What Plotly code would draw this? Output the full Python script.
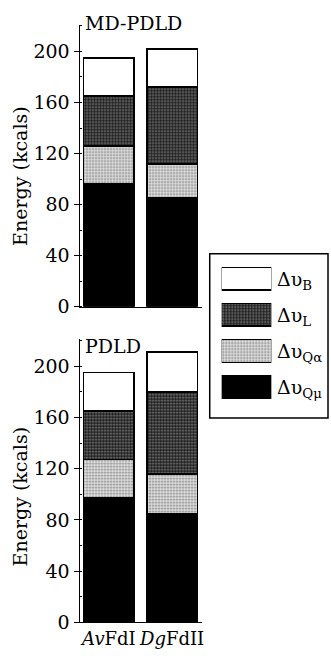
import plotly.graph_objects as go

categories = ["AvFdI", "DgFdII"]
tick_text = ["<i>Av</i>FdI", "<i>Dg</i>FdII"]
components = ["Qmu", "Qalpha", "L", "B"]
legend_subs = ["B", "L", "Qα", "Qμ"]

md_qmu = [96, 85]
md_qalpha = [30, 27]
md_l = [39, 60]
md_b = [30, 30]

pdld_qmu = [97, 85]
pdld_qalpha = [30, 31]
pdld_l = [38, 64]
pdld_b = [30, 31]

yticks = [0, 40, 80, 120, 160, 200]

FONT = "DejaVu Serif"
FS = 19

styles = {
    "Qmu": dict(color="black"),
    "Qalpha": dict(color="#d8d8d8", pattern=dict(shape=".", size=3, solidity=0.35,
                                                 fgcolor="#7a7a7a", bgcolor="#e6e6e6", fillmode="replace")),
    "L": dict(color="#333333", pattern=dict(shape=".", size=3, solidity=0.3,
                                            fgcolor="#8c8c8c", bgcolor="#1a1a1a", fillmode="replace")),
    "B": dict(color="white"),
}

fig = go.Figure()

panels = [
    ("x", "y", [md_qmu, md_qalpha, md_l, md_b]),
    ("x2", "y2", [pdld_qmu, pdld_qalpha, pdld_l, pdld_b]),
]
for xa, ya, series in panels:
    for comp, vals in zip(components, series):
        mk = dict(styles[comp])
        mk["line"] = dict(color="black", width=1.5)
        fig.add_trace(go.Bar(x=categories, y=vals, xaxis=xa, yaxis=ya, marker=mk,
                             width=0.8, showlegend=False, hoverinfo="skip"))

# legend swatches in a hidden axis
legend_comps = ["B", "L", "Qalpha", "Qmu"]
for i, comp in enumerate(legend_comps):
    mk = dict(styles[comp])
    mk["line"] = dict(color="black", width=1.5)
    fig.add_trace(go.Bar(x=[1], y=[i], orientation="h", xaxis="x3", yaxis="y3",
                         marker=mk, width=0.63, showlegend=False, hoverinfo="skip"))

yax_common = dict(
    range=[0, 221], tickvals=yticks, ticks="outside", ticklen=5, tickwidth=1,
    tickcolor="black", showline=True, linecolor="black", linewidth=1,
    showgrid=False, zeroline=False,
    tickfont=dict(family=FONT, size=FS, color="black"),
    minor=dict(dtick=20, ticks="inside", ticklen=2, tickcolor="black"),
)
xax_common = dict(
    range=[-0.465, 1.47], showline=True, linecolor="black", linewidth=1,
    showgrid=False, zeroline=False, ticks="", tickangle=0,
    tickfont=dict(family=FONT, size=18, color="black"),
)

fig.update_layout(
    width=331, height=658,
    margin=dict(l=0, r=0, t=0, b=0),
    paper_bgcolor="white", plot_bgcolor="white",
    barmode="stack",
    showlegend=False,
    xaxis=dict(domain=[80/331, 203/331], anchor="y", showticklabels=False, **xax_common),
    yaxis=dict(domain=[1-312/658, 1-25/658], anchor="x", **yax_common),
    xaxis2=dict(domain=[80/331, 203/331], anchor="y2", tickvals=categories,
                ticktext=tick_text, **xax_common),
    yaxis2=dict(domain=[1-633/658, 1-345/658], anchor="x2", **yax_common),
    xaxis3=dict(domain=[223/331, 273/331], anchor="y3", range=[0, 1], visible=False),
    yaxis3=dict(domain=[1-412/658, 1-265/658], anchor="x3", range=[3.5, -0.5], visible=False),
)

# legend box
fig.add_shape(type="rect", xref="paper", yref="paper",
              x0=211/331, x1=330/331, y0=1-425/658, y1=1-258/658,
              line=dict(color="black", width=1.5), fillcolor="rgba(0,0,0,0)")

row_y = [283.5, 320, 357, 393.5]
for sub, ry in zip(legend_subs, row_y):
    lbl = "Δυ<sub>" + sub + "</sub>"
    fig.add_annotation(text=lbl, xref="paper", yref="paper", x=277/331, y=1-(ry+2)/658,
                       xanchor="left", yanchor="middle", showarrow=False,
                       font=dict(family=FONT, size=FS, color="black"))

# panel titles
fig.add_annotation(text="MD-PDLD", xref="paper", yref="paper", x=84/331, y=1-23/658,
                   xanchor="left", yanchor="middle", showarrow=False,
                   font=dict(family=FONT, size=19, color="black"))
fig.add_annotation(text="PDLD", xref="paper", yref="paper", x=84/331, y=1-352/658,
                   xanchor="left", yanchor="middle", showarrow=False,
                   font=dict(family=FONT, size=19, color="black"))

# y axis titles
for yc in [179, 505]:
    fig.add_annotation(text="Energy (kcals)", xref="paper", yref="paper", x=20/331, y=1-yc/658,
                       xanchor="center", yanchor="middle", textangle=-90, showarrow=False,
                       font=dict(family=FONT, size=FS, color="black"))

fig.write_html("out.html")
